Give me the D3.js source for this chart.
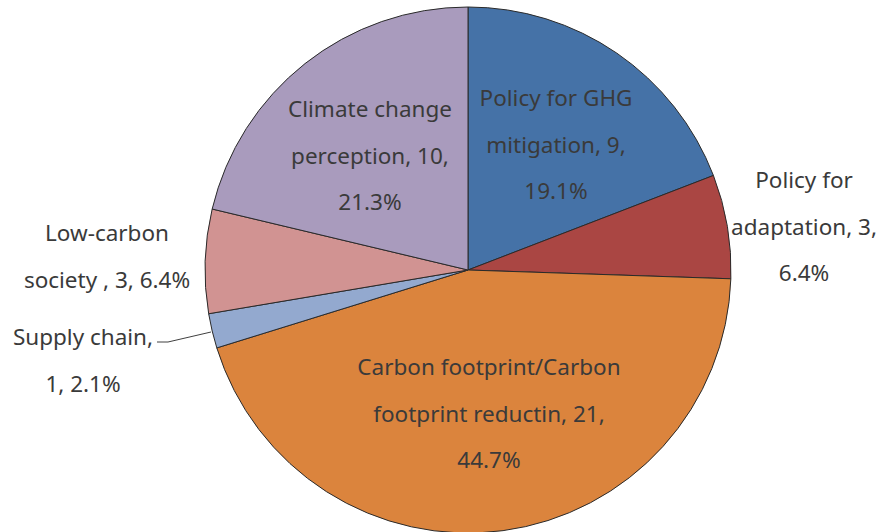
<!DOCTYPE html>
<html><head><meta charset="utf-8">
<script src="https://cdn.jsdelivr.net/npm/d3@7"></script>
<style>body{margin:0;background:#fff}svg{display:block}</style>
</head><body><svg id="c" width="878" height="532"></svg>
<script>
const categories = ["Policy for GHG mitigation","Policy for adaptation","Carbon footprint/Carbon footprint reductin","Supply chain","Low-carbon society","Climate change perception"];
const values = [9,3,21,1,3,10];
const percents = ["19.1%","6.4%","44.7%","2.1%","6.4%","21.3%"];
const colors = ["#4572A7","#AA4643","#DB843D","#93A9CF","#D19392","#A99BBD"];
const labelLines = [
  ["Policy for GHG","mitigation, 9,","19.1%"],
  ["Policy for","adaptation, 3,","6.4%"],
  ["Carbon footprint/Carbon","footprint reductin, 21,","44.7%"],
  ["Supply chain,","1, 2.1%"],
  ["Low-carbon","society , 3, 6.4%"],
  ["Climate change","perception, 10,","21.3%"]
];
const labelPos = [[556,98],[804,180],[489,367],[83,337],[107,233],[370,109]];

const svg = d3.select("#c");
const cx = 468, cy = 270, r = 263;
const g = svg.append("g").attr("transform",`translate(${cx},${cy})`);
const pie = d3.pie().sort(null).value(d=>d)(values);
const arc = d3.arc().innerRadius(0).outerRadius(r);
g.selectAll("path").data(pie).join("path")
  .attr("d",arc).attr("fill",(d,i)=>colors[i])
  .attr("stroke","#2a2a2a").attr("stroke-width",1);

// leader line for supply chain
svg.append("polyline").attr("points","157,342 168,342 211,332")
  .attr("fill","none").attr("stroke","#404040").attr("stroke-width",1);

labelLines.forEach((lines,i)=>{
  const t = svg.append("text").attr("text-anchor","middle")
    .attr("font-family","'Noto Sans', sans-serif").attr("font-size",22.5)
    .attr("fill","#3a3a3a");
  lines.forEach((ln,j)=>{
    t.append("tspan").attr("x",labelPos[i][0]).attr("y",labelPos[i][1]+j*46.5+8).text(ln);
  });
});
</script></body></html>
